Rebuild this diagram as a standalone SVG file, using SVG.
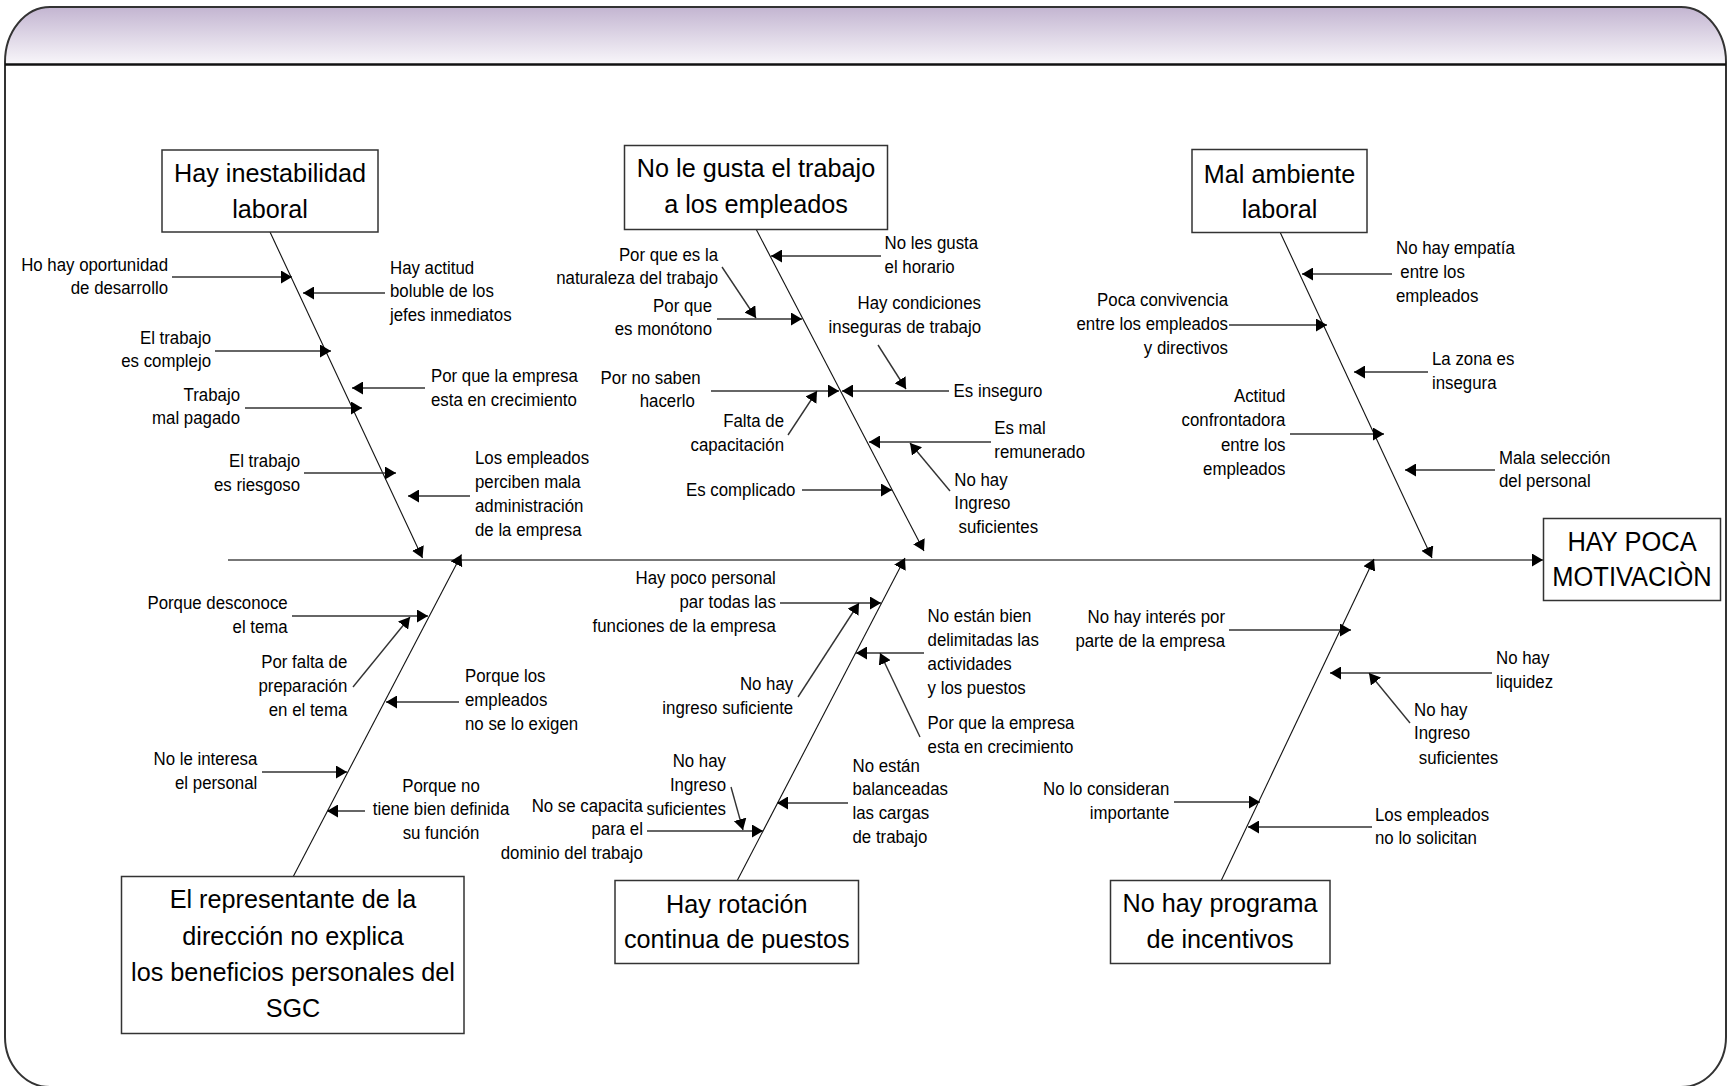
<svg xmlns="http://www.w3.org/2000/svg" width="1727" height="1086" viewBox="0 0 1727 1086">
<defs>
<linearGradient id="hdr" x1="0" y1="0" x2="0" y2="1">
<stop offset="0" stop-color="#c3b5d1"/>
<stop offset="1" stop-color="#f8f6fa"/>
</linearGradient>
<marker id="ah" markerUnits="userSpaceOnUse" markerWidth="12" markerHeight="13" refX="11" refY="6.5" orient="auto" viewBox="0 0 12 13">
<path d="M0,0 L11,6.5 L0,13 Z" fill="#000"/>
</marker>
<style>
.s{font-family:"Liberation Sans",Arial,sans-serif;font-size:18.5px;fill:#000}
.b{font-family:"Liberation Sans",Arial,sans-serif;font-size:26px;fill:#000;text-anchor:middle}
.e{text-anchor:end}
.m{text-anchor:middle}
.box{fill:#fff;stroke:#333;stroke-width:1.5}
.ar{stroke:#333;stroke-width:1.4;fill:none;marker-end:url(#ah)}
.bone{stroke:#111;stroke-width:1.1;fill:none;marker-end:url(#ah)}
.spine{stroke:#777;stroke-width:2.2;fill:none;marker-end:url(#ah)}
</style>
</defs>
<rect width="1727" height="1086" fill="#fff"/>
<g id="frame">
<path d="M5,62 A45,55 0 0 1 50,7 L1681,7 A45,55 0 0 1 1726,62 L1726,64 L5,64 Z" fill="url(#hdr)"/>
<path d="M5,62 A45,55 0 0 1 50,7 L1681,7 A45,55 0 0 1 1726,62 L1726,1037 A45,50 0 0 1 1681,1087 L50,1087 A45,50 0 0 1 5,1037 Z" fill="none" stroke="#333" stroke-width="2"/>
<line x1="5" y1="64.5" x2="1726" y2="64.5" stroke="#111" stroke-width="2.5"/>
</g>
<g id="connectors">
<line class="spine" x1="228" y1="560" x2="1543" y2="560"/>
<line class="bone" x1="270" y1="232" x2="422.5" y2="558"/>
<line class="bone" x1="756" y1="229" x2="924" y2="551"/>
<line class="bone" x1="1280" y1="232" x2="1432" y2="558"/>
<line class="bone" x1="293" y1="877" x2="461.5" y2="554.5"/>
<line class="bone" x1="737" y1="881" x2="905" y2="558"/>
<line class="bone" x1="1221" y1="881" x2="1374" y2="559"/>
<line class="ar" x1="172" y1="277" x2="292" y2="277"/>
<line class="ar" x1="385" y1="293" x2="303" y2="293"/>
<line class="ar" x1="215" y1="351" x2="331" y2="351"/>
<line class="ar" x1="425" y1="388" x2="352" y2="388"/>
<line class="ar" x1="245" y1="408" x2="362" y2="408"/>
<line class="ar" x1="304" y1="473" x2="396" y2="473"/>
<line class="ar" x1="470" y1="496" x2="408" y2="496"/>
<line class="ar" x1="881" y1="256" x2="771" y2="256"/>
<line class="ar" x1="722" y1="267" x2="756" y2="318"/>
<line class="ar" x1="717" y1="319" x2="802" y2="319"/>
<line class="ar" x1="878" y1="345" x2="906" y2="389"/>
<line class="ar" x1="949" y1="391" x2="842" y2="391"/>
<line class="ar" x1="711" y1="391" x2="839" y2="391"/>
<line class="ar" x1="788" y1="435" x2="817" y2="391"/>
<line class="ar" x1="991" y1="442" x2="869" y2="442"/>
<line class="ar" x1="950" y1="491" x2="910" y2="443"/>
<line class="ar" x1="802" y1="490" x2="892" y2="490"/>
<line class="ar" x1="1392" y1="274" x2="1302" y2="274"/>
<line class="ar" x1="1229" y1="325" x2="1327" y2="325"/>
<line class="ar" x1="1428" y1="372" x2="1354" y2="372"/>
<line class="ar" x1="1290" y1="434" x2="1384" y2="434"/>
<line class="ar" x1="1495" y1="470" x2="1405" y2="470"/>
<line class="ar" x1="292" y1="616" x2="428" y2="616"/>
<line class="ar" x1="353" y1="687" x2="410" y2="617"/>
<line class="ar" x1="459" y1="702" x2="386" y2="702"/>
<line class="ar" x1="262" y1="772" x2="347" y2="772"/>
<line class="ar" x1="365" y1="811" x2="327" y2="811"/>
<line class="ar" x1="780" y1="603" x2="881" y2="603"/>
<line class="ar" x1="798" y1="697" x2="859" y2="603"/>
<line class="ar" x1="924" y1="653" x2="856" y2="653"/>
<line class="ar" x1="920" y1="737" x2="880" y2="653"/>
<line class="ar" x1="731" y1="787" x2="743" y2="830"/>
<line class="ar" x1="647" y1="831" x2="763" y2="831"/>
<line class="ar" x1="848" y1="803" x2="777" y2="803"/>
<line class="ar" x1="1229" y1="630" x2="1351" y2="630"/>
<line class="ar" x1="1492" y1="673" x2="1330" y2="673"/>
<line class="ar" x1="1410" y1="723" x2="1369" y2="673"/>
<line class="ar" x1="1174" y1="802" x2="1260" y2="802"/>
<line class="ar" x1="1372" y1="827" x2="1248" y2="827"/>
</g>
<g id="effect">
<rect class="box" x="1543.5" y="518.5" width="177" height="82"/>
<text class="b" transform="translate(1632,550.7) scale(.91,1)" style="font-size:28px"><tspan x="0">HAY POCA</tspan><tspan x="0" dy="35.3">MOTIVACIÒN</tspan></text>
</g>
<g id="cause-inestabilidad">
<rect class="box" x="162" y="150" width="216" height="82"/>
<text class="b" transform="translate(270,181.7) scale(.97,1)"><tspan x="0">Hay inestabilidad</tspan><tspan x="0" dy="36.3">laboral</tspan></text>
</g>
<g id="cause-no-gusta">
<rect class="box" x="624.5" y="145.5" width="263" height="84"/>
<text class="b" transform="translate(756,176.7) scale(.97,1)"><tspan x="0">No le gusta el trabajo</tspan><tspan x="0" dy="36">a los empleados</tspan></text>
</g>
<g id="cause-ambiente">
<rect class="box" x="1192" y="149.5" width="175" height="83"/>
<text class="b" transform="translate(1279.5,182.8) scale(.97,1)"><tspan x="0">Mal ambiente</tspan><tspan x="0" dy="35.2">laboral</tspan></text>
</g>
<g id="cause-representante">
<rect class="box" x="121.5" y="876.5" width="342.5" height="157"/>
<text class="b" transform="translate(293,908.3) scale(.97,1)"><tspan x="0">El representante de la</tspan><tspan x="0" dy="36.5">dirección no explica</tspan><tspan x="0" dy="36.5">los beneficios personales del</tspan><tspan x="0" dy="35.5">SGC</tspan></text>
</g>
<g id="cause-rotacion">
<rect class="box" x="615" y="880.5" width="243.5" height="83"/>
<text class="b" transform="translate(736.8,912.7) scale(.97,1)"><tspan x="0">Hay rotación</tspan><tspan x="0" dy="35.6">continua de puestos</tspan></text>
</g>
<g id="cause-incentivos">
<rect class="box" x="1110.5" y="880.5" width="219.5" height="83"/>
<text class="b" transform="translate(1220,911.7) scale(.97,1)"><tspan x="0">No hay programa</tspan><tspan x="0" dy="36.6">de incentivos</tspan></text>
</g>
<g id="l1-1"><text class="s e" transform="translate(168,270.5) scale(.91,1)"><tspan x="0">Ho hay oportunidad</tspan><tspan x="0" dy="24">de desarrollo</tspan></text></g>
<g id="l1-2"><text class="s" transform="translate(390,273.5) scale(.91,1)"><tspan x="0">Hay actitud</tspan><tspan x="0" dy="24">boluble de los</tspan><tspan x="0" dy="24">jefes inmediatos</tspan></text></g>
<g id="l1-3"><text class="s e" transform="translate(211,343.5) scale(.91,1)"><tspan x="0">El trabajo</tspan><tspan x="0" dy="24">es complejo</tspan></text></g>
<g id="l1-4"><text class="s" transform="translate(431,382) scale(.91,1)"><tspan x="0">Por que la empresa</tspan><tspan x="0" dy="24">esta en crecimiento</tspan></text></g>
<g id="l1-5"><text class="s e" transform="translate(240,400.5) scale(.91,1)"><tspan x="0">Trabajo</tspan><tspan x="0" dy="24">mal pagado</tspan></text></g>
<g id="l1-6"><text class="s e" transform="translate(300,467) scale(.91,1)"><tspan x="0">El trabajo</tspan><tspan x="0" dy="24">es riesgoso</tspan></text></g>
<g id="l1-7"><text class="s" transform="translate(475,464) scale(.91,1)"><tspan x="0">Los empleados</tspan><tspan x="0" dy="24">perciben mala</tspan><tspan x="0" dy="24">administración</tspan><tspan x="0" dy="24">de la empresa</tspan></text></g>
<g id="l2-1"><text class="s" transform="translate(884.6,249) scale(.91,1)"><tspan x="0">No les gusta</tspan><tspan x="0" dy="24">el horario</tspan></text></g>
<g id="l2-2"><text class="s e" transform="translate(718,260.5) scale(.91,1)"><tspan x="0">Por que es la</tspan><tspan x="0" dy="24">naturaleza del trabajo</tspan></text></g>
<g id="l2-3"><text class="s e" transform="translate(712,311.5) scale(.91,1)"><tspan x="0">Por que</tspan><tspan x="0" dy="24">es monótono</tspan></text></g>
<g id="l2-4"><text class="s e" transform="translate(981,309) scale(.91,1)"><tspan x="0">Hay condiciones</tspan><tspan x="0" dy="24">inseguras de trabajo</tspan></text></g>
<g id="l2-5"><text class="s" transform="translate(953.6,396.5) scale(.91,1)">Es inseguro</text></g>
<g id="l2-6"><text class="s e" transform="translate(700.7,384) scale(.91,1)"><tspan x="0">Por no saben</tspan><tspan x="-6.4" dy="23.5">hacerlo</tspan></text></g>
<g id="l2-7"><text class="s e" transform="translate(784,427) scale(.91,1)"><tspan x="0">Falta de</tspan><tspan x="0" dy="24">capacitación</tspan></text></g>
<g id="l2-8"><text class="s" transform="translate(994.3,434) scale(.91,1)"><tspan x="0">Es mal</tspan><tspan x="0" dy="24">remunerado</tspan></text></g>
<g id="l2-9"><text class="s" transform="translate(954.3,485.5) scale(.91,1)"><tspan x="0">No hay</tspan><tspan x="0" dy="23.5">Ingreso</tspan><tspan x="4.7" dy="24">suficientes</tspan></text></g>
<g id="l2-10"><text class="s e" transform="translate(795.4,495.5) scale(.91,1)">Es complicado</text></g>
<g id="l3-1"><text class="s" transform="translate(1396,254) scale(.91,1)"><tspan x="0">No hay empatía</tspan><tspan x="4.8" dy="24.5">entre los</tspan><tspan x="0" dy="23.5">empleados</tspan></text></g>
<g id="l3-2"><text class="s e" transform="translate(1228,306) scale(.91,1)"><tspan x="0">Poca convivencia</tspan><tspan x="0" dy="24">entre los empleados</tspan><tspan x="0" dy="24">y directivos</tspan></text></g>
<g id="l3-3"><text class="s" transform="translate(1432,365) scale(.91,1)"><tspan x="0">La zona es</tspan><tspan x="0" dy="24">insegura</tspan></text></g>
<g id="l3-4"><text class="s e" transform="translate(1285.4,402) scale(.91,1)"><tspan x="0">Actitud</tspan><tspan x="0" dy="24.3">confrontadora</tspan><tspan x="0" dy="24.3">entre los</tspan><tspan x="0" dy="24.3">empleados</tspan></text></g>
<g id="l3-5"><text class="s" transform="translate(1499,464) scale(.91,1)"><tspan x="0">Mala selección</tspan><tspan x="0" dy="23.5">del personal</tspan></text></g>
<g id="l4-1"><text class="s e" transform="translate(287.7,609) scale(.91,1)"><tspan x="0">Porque desconoce</tspan><tspan x="0" dy="24">el tema</tspan></text></g>
<g id="l4-2"><text class="s e" transform="translate(347.3,668) scale(.91,1)"><tspan x="0">Por falta de</tspan><tspan x="0" dy="24">preparación</tspan><tspan x="0" dy="24.5">en el tema</tspan></text></g>
<g id="l4-3"><text class="s" transform="translate(465,681.5) scale(.91,1)"><tspan x="0">Porque los</tspan><tspan x="0" dy="24.3">empleados</tspan><tspan x="0" dy="24.3">no se lo exigen</tspan></text></g>
<g id="l4-4"><text class="s e" transform="translate(257.3,765) scale(.91,1)"><tspan x="0">No le interesa</tspan><tspan x="0" dy="24">el personal</tspan></text></g>
<g id="l4-5"><text class="s m" transform="translate(441,791.5) scale(.91,1)"><tspan x="0">Porque no</tspan><tspan x="0" dy="24">tiene bien definida</tspan><tspan x="0" dy="24">su función</tspan></text></g>
<g id="l5-1"><text class="s e" transform="translate(775.8,584) scale(.91,1)"><tspan x="0">Hay poco personal</tspan><tspan x="0" dy="24">par todas las</tspan><tspan x="0" dy="24">funciones de la empresa</tspan></text></g>
<g id="l5-2"><text class="s e" transform="translate(793.2,689.5) scale(.91,1)"><tspan x="0">No hay</tspan><tspan x="0" dy="24.3">ingreso suficiente</tspan></text></g>
<g id="l5-3"><text class="s" transform="translate(927.6,622) scale(.91,1)"><tspan x="0">No están bien</tspan><tspan x="0" dy="24">delimitadas las</tspan><tspan x="0" dy="24">actividades</tspan><tspan x="0" dy="24">y los puestos</tspan></text></g>
<g id="l5-4"><text class="s" transform="translate(927.6,729) scale(.91,1)"><tspan x="0">Por que la empresa</tspan><tspan x="0" dy="24.5">esta en crecimiento</tspan></text></g>
<g id="l5-5"><text class="s e" transform="translate(726,767) scale(.91,1)"><tspan x="0">No hay</tspan><tspan x="0" dy="24.5">Ingreso</tspan><tspan x="0" dy="24">suficientes</tspan></text></g>
<g id="l5-6"><text class="s e" transform="translate(642.9,811.5) scale(.91,1)"><tspan x="0">No se capacita</tspan><tspan x="0" dy="24">para el</tspan><tspan x="0" dy="24">dominio del trabajo</tspan></text></g>
<g id="l5-7"><text class="s" transform="translate(852.5,771.5) scale(.91,1)"><tspan x="0">No están</tspan><tspan x="0" dy="24">balanceadas</tspan><tspan x="0" dy="24">las cargas</tspan><tspan x="0" dy="24">de trabajo</tspan></text></g>
<g id="l6-1"><text class="s e" transform="translate(1225,623) scale(.91,1)"><tspan x="0">No hay interés por</tspan><tspan x="0" dy="24.3">parte de la empresa</tspan></text></g>
<g id="l6-2"><text class="s" transform="translate(1496,664) scale(.91,1)"><tspan x="0">No hay</tspan><tspan x="0" dy="24.3">liquidez</tspan></text></g>
<g id="l6-3"><text class="s" transform="translate(1414,715.5) scale(.91,1)"><tspan x="0">No hay</tspan><tspan x="0" dy="24">Ingreso</tspan><tspan x="5.2" dy="24.3">suficientes</tspan></text></g>
<g id="l6-4"><text class="s e" transform="translate(1169.3,795) scale(.91,1)"><tspan x="0">No lo consideran</tspan><tspan x="0" dy="24">importante</tspan></text></g>
<g id="l6-5"><text class="s" transform="translate(1375,820.5) scale(.91,1)"><tspan x="0">Los empleados</tspan><tspan x="0" dy="23.5">no lo solicitan</tspan></text></g>
</svg>
